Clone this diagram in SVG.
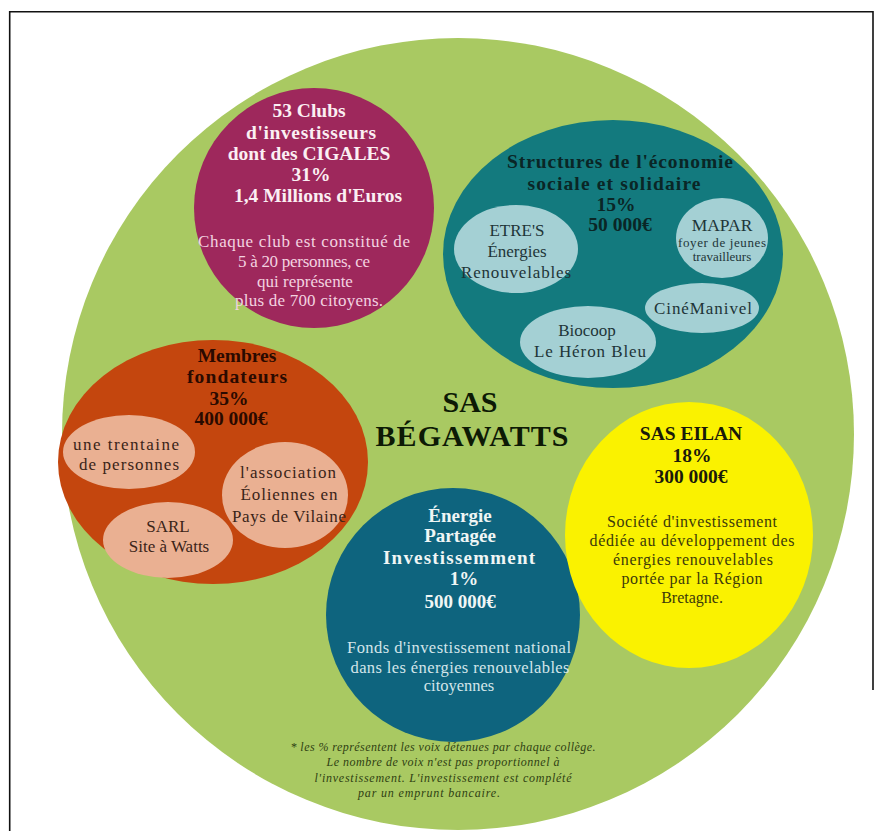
<svg xmlns="http://www.w3.org/2000/svg" width="882" height="831" viewBox="0 0 882 831">
<style>
text{font-family:"Liberation Serif","Times New Roman",serif;text-anchor:middle}
.frame{stroke:#111;stroke-width:1.6;fill:none}
.mT{fill:#FBEFF3;font-size:19.5px;font-weight:bold}
.mB{fill:#F3D3E0;font-size:17px}
.sT{fill:#0A2626;font-size:19.5px;font-weight:bold}
.sI{fill:#1E3538;font-size:17px}
.sS{fill:#1E3538;font-size:13px}
.oT{fill:#2A0A00;font-size:19.5px;font-weight:bold}
.oI{fill:#3A2418;font-size:17px}
.eT{fill:#F0F6F5;font-size:19px;font-weight:bold}
.eB{fill:#D4E6EA;font-size:16.5px}
.yT{fill:#1A1A0A;font-size:19.5px;font-weight:bold}
.yB{fill:#3C3A0A;font-size:16px}
.title{fill:#0D1A05;font-size:30px;font-weight:bold}
.foot{fill:#2F3F12;font-size:12px;font-style:italic}
</style>
<rect width="882" height="831" fill="#ffffff"/>
<g id="frame">
<path class="frame" d="M9.7,831 V11.7 H873 V690"/>
</g>
<g id="sas-begawatts">
<circle cx="458" cy="434" r="396" fill="#A9C962"/>
<text class="title" x="470" y="412">SAS</text>
<text class="title" x="472" y="446" textLength="193" lengthAdjust="spacing">BÉGAWATTS</text>
</g>
<g id="clubs">
<circle cx="314" cy="208" r="120" fill="#9E285C"/>
<text class="mT" x="309" y="117">53 Clubs</text>
<text class="mT" x="311" y="139" textLength="130" lengthAdjust="spacing">d'investisseurs</text>
<text class="mT" x="309" y="160">dont des CIGALES</text>
<text class="mT" x="311" y="181">31%</text>
<text class="mT" x="318" y="202">1,4 Millions d'Euros</text>
<text class="mB" x="304" y="247" textLength="212" lengthAdjust="spacing">Chaque club est constitué de</text>
<text class="mB" x="304" y="267" textLength="132" lengthAdjust="spacing">5 à 20 personnes, ce</text>
<text class="mB" x="305" y="287">qui représente</text>
<text class="mB" x="309" y="306" textLength="148" lengthAdjust="spacing">plus de 700 citoyens.</text>
</g>
<g id="structures">
<ellipse cx="613" cy="254" rx="170" ry="134" fill="#137A7E"/>
<text class="sT" x="620" y="168" textLength="226" lengthAdjust="spacing">Structures de l'économie</text>
<text class="sT" x="614" y="190" textLength="173" lengthAdjust="spacing">sociale et solidaire</text>
<text class="sT" x="616" y="211">15%</text>
<text class="sT" x="620" y="231">50 000€</text>
</g>
<g id="etres">
<ellipse cx="516" cy="249" rx="62" ry="44" fill="#A4D0D4"/>
<text class="sI" x="517" y="236">ETRE'S</text>
<text class="sI" x="517" y="257">Énergies</text>
<text class="sI" x="516" y="278" textLength="110" lengthAdjust="spacing">Renouvelables</text>
</g>
<g id="mapar">
<ellipse cx="722" cy="238" rx="46" ry="40" fill="#A4D0D4"/>
<text class="sI" x="722" y="231" style="font-size:17.5px">MAPAR</text>
<text class="sS" x="722" y="247" textLength="88" lengthAdjust="spacing">foyer de jeunes</text>
<text class="sS" x="722" y="261">travailleurs</text>
</g>
<g id="cinemanivel">
<ellipse cx="702" cy="308" rx="57" ry="25" fill="#A4D0D4"/>
<text class="sI" x="703" y="314" textLength="98" lengthAdjust="spacing">CinéManivel</text>
</g>
<g id="biocoop">
<ellipse cx="588" cy="342" rx="68" ry="36" fill="#A4D0D4"/>
<text class="sI" x="587" y="336">Biocoop</text>
<text class="sI" x="590" y="357" textLength="112" lengthAdjust="spacing">Le Héron Bleu</text>
</g>
<g id="membres">
<ellipse cx="213" cy="462" rx="155" ry="122" fill="#C4460E"/>
<text class="oT" x="237" y="362">Membres</text>
<text class="oT" x="237" y="383" textLength="100" lengthAdjust="spacing">fondateurs</text>
<text class="oT" x="229" y="405">35%</text>
<text class="oT" x="231" y="425">400 000€</text>
</g>
<g id="trentaine">
<ellipse cx="129" cy="452" rx="66" ry="37" fill="#EAB092"/>
<text class="oI" x="126" y="450" textLength="106" lengthAdjust="spacing">une trentaine</text>
<text class="oI" x="129" y="470" textLength="100" lengthAdjust="spacing">de personnes</text>
</g>
<g id="eoliennes">
<ellipse cx="285" cy="495" rx="63" ry="53" fill="#EAB092"/>
<text class="oI" x="288" y="478" textLength="96" lengthAdjust="spacing">l'association</text>
<text class="oI" x="289" y="500" textLength="97" lengthAdjust="spacing">Éoliennes en</text>
<text class="oI" x="289" y="522" textLength="114" lengthAdjust="spacing">Pays de Vilaine</text>
</g>
<g id="sarl">
<ellipse cx="168" cy="540" rx="65" ry="38" fill="#EAB092"/>
<text class="oI" x="168" y="532">SARL</text>
<text class="oI" x="169" y="552">Site à Watts</text>
</g>
<g id="energie-partagee">
<circle cx="453" cy="615" r="127" fill="#0E647E"/>
<text class="eT" x="460" y="522">Énergie</text>
<text class="eT" x="460" y="542">Partagée</text>
<text class="eT" x="459" y="564" textLength="152" lengthAdjust="spacing">Investissemment</text>
<text class="eT" x="464" y="585">1%</text>
<text class="eT" x="460" y="608">500 000€</text>
<text class="eB" x="459" y="653" textLength="224" lengthAdjust="spacing">Fonds d'investissement national</text>
<text class="eB" x="460" y="673" textLength="219" lengthAdjust="spacing">dans les énergies renouvelables</text>
<text class="eB" x="459" y="691">citoyennes</text>
</g>
<g id="eilan">
<ellipse cx="689" cy="535" rx="124" ry="133" fill="#FAF200"/>
<text class="yT" x="691" y="440">SAS EILAN</text>
<text class="yT" x="692" y="462">18%</text>
<text class="yT" x="691" y="483">300 000€</text>
<text class="yB" x="692" y="527" textLength="170" lengthAdjust="spacing">Société d'investissement</text>
<text class="yB" x="692" y="546" textLength="205" lengthAdjust="spacing">dédiée au développement des</text>
<text class="yB" x="693" y="565" textLength="160" lengthAdjust="spacing">énergies renouvelables</text>
<text class="yB" x="692" y="584" textLength="141" lengthAdjust="spacing">portée par la Région</text>
<text class="yB" x="692" y="603">Bretagne.</text>
</g>
<g id="footnote">
<text class="foot" x="443" y="751" textLength="305" lengthAdjust="spacing">* les % représentent les voix détenues par chaque collège.</text>
<text class="foot" x="443" y="766" textLength="233" lengthAdjust="spacing">Le nombre de voix n'est pas proportionnel à</text>
<text class="foot" x="443" y="782" textLength="257" lengthAdjust="spacing">l'investissement. L'investissement est complété</text>
<text class="foot" x="429" y="797" textLength="142" lengthAdjust="spacing">par un emprunt bancaire.</text>
</g>
<g id="connectors"/>
</svg>
